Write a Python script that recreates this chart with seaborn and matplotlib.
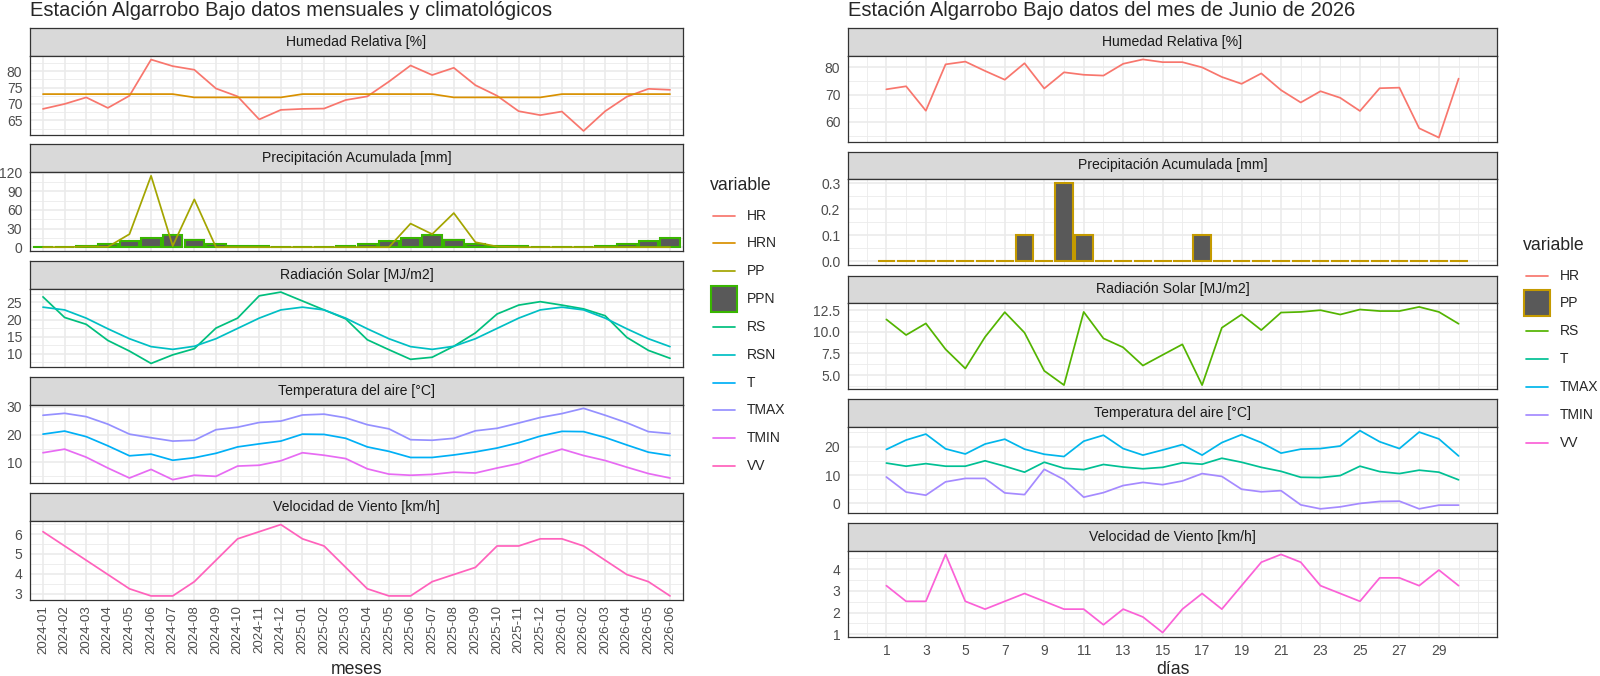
import numpy as np
import pandas as pd
import matplotlib
matplotlib.use("Agg")
import matplotlib.pyplot as plt
import seaborn as sns
from matplotlib.lines import Line2D
from matplotlib.patches import Rectangle
from matplotlib.ticker import FixedLocator, MultipleLocator, FuncFormatter

# ---- datos mensuales (2024-01 .. 2026-06) ----
meses = ["2024-01", "2024-02", "2024-03", "2024-04", "2024-05", "2024-06",
         "2024-07", "2024-08", "2024-09", "2024-10", "2024-11", "2024-12",
         "2025-01", "2025-02", "2025-03", "2025-04", "2025-05", "2025-06",
         "2025-07", "2025-08", "2025-09", "2025-10", "2025-11", "2025-12",
         "2026-01", "2026-02", "2026-03", "2026-04", "2026-05", "2026-06"]
hr_mes = [68.5, 70.0, 72.0, 68.8, 72.5, 83.5, 81.5, 80.4, 74.7, 72.3, 65.3, 68.2,
          68.5, 68.6, 71.2, 72.3, 76.8, 81.7, 78.8, 81.0, 75.7, 72.5, 67.8, 66.6,
          67.7, 61.8, 67.8, 72.2, 74.6, 74.3]
hrn_mes = [73, 73, 73, 73, 73, 73, 73, 72, 72, 72, 72, 72,
           73, 73, 73, 73, 73, 73, 73, 72, 72, 72, 72, 72,
           73, 73, 73, 73, 73, 73]
pp_mes = [0, 0, 1.0, 0.5, 21, 115, 2, 77, 0, 0, 0, 0,
          0, 0, 0, 0, 0, 38, 21, 55, 8, 1, 0, 0,
          0, 0, 0, 0, 0, 0]
ppn_mes = [0.2, 0.5, 1.5, 4.8, 10, 15.5, 19.7, 12, 5.7, 2.6, 1.5, 0.4,
           0.2, 0.5, 1.5, 4.8, 10, 15.5, 19.7, 12, 5.7, 2.6, 1.5, 0.4,
           0.2, 0.5, 1.5, 4.8, 10, 15.5]
rs_mes = [26.6, 20.6, 18.6, 13.9, 10.8, 7.2, 9.7, 11.5, 17.5, 20.4, 26.9, 28.0,
          25.4, 22.8, 20.2, 14.1, 11.2, 8.4, 9.0, 12.2, 16.1, 21.6, 24.2, 25.2,
          24.2, 23.1, 21.1, 14.8, 11.0, 8.7]
rsn_mes = [23.6, 22.8, 20.4, 17.3, 14.4, 12.1, 11.3, 12.2, 14.4, 17.4, 20.4, 22.8,
           23.6, 22.8, 20.4, 17.3, 14.4, 12.1, 11.3, 12.2, 14.4, 17.4, 20.4, 22.8,
           23.6, 22.8, 20.4, 17.3, 14.4, 12.1]
t_mes = [20.2, 21.3, 19.3, 16.0, 12.4, 13.0, 10.8, 11.7, 13.3, 15.6, 16.7, 17.7,
         20.2, 20.1, 18.7, 15.6, 14.0, 11.8, 11.8, 12.7, 13.8, 15.2, 17.1, 19.5,
         21.2, 21.1, 19.0, 16.3, 13.7, 12.5]
tmax_mes = [27.0, 27.7, 26.5, 23.8, 20.2, 18.9, 17.7, 18.0, 21.8, 22.7, 24.4, 24.9,
            27.1, 27.4, 26.1, 23.6, 22.1, 18.2, 18.0, 18.7, 21.4, 22.3, 24.2, 26.2,
            27.6, 29.5, 27.0, 24.3, 21.1, 20.4]
tmin_mes = [13.5, 14.8, 11.9, 8.0, 4.4, 7.5, 3.8, 5.4, 5.0, 8.7, 9.0, 10.6,
            13.5, 12.6, 11.4, 7.7, 5.8, 5.4, 5.7, 6.5, 6.2, 8.0, 9.6, 12.4,
            14.8, 12.5, 10.7, 8.3, 6.0, 4.4]
vv_mes = [6.12, 5.4, 4.68, 3.96, 3.24, 2.88, 2.88, 3.6, 4.68, 5.76, 6.12, 6.48,
          5.76, 5.4, 4.32, 3.24, 2.88, 2.88, 3.6, 3.96, 4.32, 5.4, 5.4, 5.76,
          5.76, 5.4, 4.68, 3.96, 3.6, 2.88]

# ---- datos diarios (junio 2026) ----
dias = list(range(1, 31))
hr_dia = [71.9, 73.0, 64.1, 81.0, 82.0, 78.6, 75.4, 81.4, 72.2, 78.1, 77.2, 76.9,
          81.2, 82.8, 81.8, 81.8, 79.9, 76.4, 73.9, 77.7, 71.6, 67.1, 71.2, 68.8,
          64.0, 72.3, 72.5, 57.7, 54.3, 75.8]
pp_dia = [0, 0, 0, 0, 0, 0, 0, 0.1, 0, 0.3, 0.1, 0, 0, 0, 0, 0, 0.1, 0,
          0, 0, 0, 0, 0, 0, 0, 0, 0, 0, 0, 0]
rs_dia = [11.43, 9.63, 10.97, 7.98, 5.76, 9.4, 12.27, 9.9, 5.49, 3.84, 12.3, 9.24,
          8.2, 6.1, 7.33, 8.55, 3.84, 10.47, 12.0, 10.2, 12.23, 12.3, 12.5, 12.0,
          12.58, 12.4, 12.4, 12.88, 12.3, 10.93]
t_dia = [14.2, 13.1, 14.0, 13.1, 13.1, 15.0, 13.1, 11.0, 14.5, 12.4, 11.9, 13.7,
         12.8, 12.2, 12.7, 14.3, 13.8, 15.9, 14.5, 12.7, 11.3, 9.2, 9.1, 9.8,
         13.1, 11.2, 10.5, 11.7, 11.0, 8.3]
tmax_dia = [19.0, 22.3, 24.4, 19.2, 17.4, 20.9, 22.6, 19.1, 17.3, 16.5, 21.9, 24.0,
            19.3, 17.0, 18.8, 20.7, 17.0, 21.4, 24.2, 21.4, 17.7, 19.1, 19.3, 20.2,
            25.6, 21.7, 19.3, 25.1, 22.7, 16.7]
tmin_dia = [9.3, 4.0, 2.9, 7.6, 8.8, 8.8, 3.7, 3.1, 12.0, 8.4, 2.2, 3.8,
            6.3, 7.4, 6.6, 7.9, 10.5, 9.5, 5.0, 4.1, 4.5, -0.5, -1.9, -1.2,
            0.0, 0.7, 0.8, -1.9, -0.6, -0.6]
vv_dia = [3.24, 2.52, 2.52, 4.68, 2.52, 2.16, 2.52, 2.88, 2.52, 2.16, 2.16, 1.44,
          2.16, 1.8, 1.08, 2.16, 2.88, 2.16, 3.24, 4.32, 4.68, 4.32, 3.24, 2.88,
          2.52, 3.6, 3.6, 3.24, 3.96, 3.24]

# colores (paleta hue de ggplot)
col_mes = {"HR": "#F8766D", "HRN": "#D89000", "PP": "#A3A500", "PPN": "#39B600",
           "RS": "#00BF7D", "RSN": "#00BFC4", "T": "#00B0F6", "TMAX": "#9590FF",
           "TMIN": "#E76BF3", "VV": "#FF62BC"}
col_dia = {"HR": "#F8766D", "PP": "#C49A00", "RS": "#53B400", "T": "#00C094",
           "TMAX": "#00B6EB", "TMIN": "#A58AFF", "VV": "#FB61D7"}

titulos = ["Humedad Relativa [%]", "Precipitación Acumulada [mm]",
           "Radiación Solar [MJ/m2]", "Temperatura del aire [°C]",
           "Velocidad de Viento [km/h]"]

df_mes = pd.DataFrame({"x": range(len(meses)), "HR": hr_mes, "HRN": hrn_mes,
                       "PP": pp_mes, "PPN": ppn_mes, "RS": rs_mes, "RSN": rsn_mes,
                       "T": t_mes, "TMAX": tmax_mes, "TMIN": tmin_mes, "VV": vv_mes})
df_mes = df_mes.melt(id_vars="x", var_name="variable", value_name="valor")
df_dia = pd.DataFrame({"x": dias, "HR": hr_dia, "PP": pp_dia, "RS": rs_dia,
                       "T": t_dia, "TMAX": tmax_dia, "TMIN": tmin_dia, "VV": vv_dia})
df_dia = df_dia.melt(id_vars="x", var_name="variable", value_name="valor")

sns.set_style("white")
plt.rcParams["font.family"] = ["Liberation Sans", "DejaVu Sans"]

W, H = 1600, 676
fig = plt.figure(figsize=(W / 100, H / 100), dpi=100)

GRIS = "#333333"
F_TICK = 10.0
F_STRIP = 10.1
F_TITULO_EJE = 12.7


def rect(x0, top, w, h):
    return [x0 / W, 1 - (top + h) / H, w / W, h / H]


def tira(x0, top, w, h, texto):
    ax = fig.add_axes(rect(x0, top, w, h))
    ax.set_facecolor("#D9D9D9")
    ax.set_xticks([])
    ax.set_yticks([])
    for s in ax.spines.values():
        s.set_color(GRIS)
        s.set_linewidth(0.9)
    ax.text(0.5, 0.5, texto, ha="center", va="center", fontsize=F_STRIP,
            color="#1A1A1A", transform=ax.transAxes)


def limites(valores):
    v = np.asarray(valores, float)
    lo, hi = v.min(), v.max()
    pad = (hi - lo) * 0.05
    return lo - pad, hi + pad


def estilo(ax, ylim, yticks, fmt):
    ax.set_ylim(ylim)
    ax.set_xlabel("")
    ax.set_ylabel("")
    paso = yticks[1] - yticks[0]
    ax.yaxis.set_major_locator(FixedLocator(yticks))
    ax.yaxis.set_minor_locator(MultipleLocator(paso / 2))
    ax.yaxis.set_major_formatter(FuncFormatter(lambda v, p: fmt.format(v)))
    ax.set_axisbelow(True)
    ax.grid(which="major", color="#EBEBEB", linewidth=1.2)
    ax.grid(which="minor", color="#EBEBEB", linewidth=0.6)
    for s in ax.spines.values():
        s.set_color(GRIS)
        s.set_linewidth(0.9)
    ax.tick_params(which="major", color=GRIS, length=3.5, width=0.9,
                   labelsize=F_TICK, labelcolor="#4D4D4D", pad=2)
    ax.tick_params(which="minor", length=0)


def dibujar(df, colores, lineas, barra, ax):
    if barra is not None:
        sub = df[df["variable"] == barra]
        sns.barplot(data=sub, x="x", y="valor", native_scale=True, width=0.9,
                    color="#595959", saturation=1, edgecolor=colores[barra],
                    linewidth=1.5, errorbar=None, ax=ax, zorder=2)
    if lineas:
        sub = df[df["variable"].isin(lineas)]
        sns.lineplot(data=sub, x="x", y="valor", hue="variable", hue_order=lineas,
                     palette=colores, estimator=None, linewidth=1.25, legend=False,
                     ax=ax, zorder=3)


def leyenda(x, y, entradas, colores, barra):
    fig.text(x / W, 1 - y / H, "variable", fontsize=F_TITULO_EJE, va="center", ha="left")
    for k, nombre in enumerate(entradas):
        yy = y + 30.5 + 27.85 * k
        if nombre == barra:
            fig.add_artist(Rectangle(((x + 1) / W, 1 - (yy + 13) / H), 26 / W, 26 / H,
                                     facecolor="#595959", edgecolor=colores[nombre],
                                     linewidth=1.5, transform=fig.transFigure))
        else:
            fig.add_artist(Line2D([(x + 3) / W, (x + 25) / W], [1 - yy / H] * 2,
                                  color=colores[nombre], linewidth=1.25,
                                  transform=fig.transFigure))
        fig.text((x + 37) / W, 1 - yy / H, nombre, fontsize=F_TICK, va="center", ha="left")


# ---- panel izquierdo: mensual ----
paneles_mes = [(["HR", "HRN"], None, [65, 70, 75, 80], "{:.0f}"),
               (["PP"], "PPN", [0, 30, 60, 90, 120], "{:.0f}"),
               (["RS", "RSN"], None, [10, 15, 20, 25], "{:.0f}"),
               (["TMAX", "T", "TMIN"], None, [10, 20, 30], "{:.0f}"),
               (["VV"], None, [3, 4, 5, 6], "{:.0f}")]
LX0, LX1 = 30, 683
for i, (lineas, barra, yt, fmt) in enumerate(paneles_mes):
    top = 28 + i * 116.25
    tira(LX0, top, LX1 - LX0, 28, titulos[i])
    ax = fig.add_axes(rect(LX0, top + 28, LX1 - LX0, 78.5))
    dibujar(df_mes, col_mes, lineas, barra, ax)
    vals = df_mes[df_mes["variable"].isin(lineas + ([barra] if barra else []))]["valor"]
    if barra:
        vals = list(vals) + [0]
    estilo(ax, limites(vals), yt, fmt)
    ax.set_xlim(-0.6, len(meses) - 0.4)
    ax.xaxis.set_major_locator(FixedLocator(range(len(meses))))
    ax.xaxis.set_minor_locator(FixedLocator([]))
    if i < len(paneles_mes) - 1:
        ax.tick_params(axis="x", length=0, labelbottom=False)
    else:
        ax.set_xticklabels(meses, rotation=90)
        ax.tick_params(axis="x", labelsize=9.6, pad=0.5)
fig.text(((LX0 + LX1) / 2) / W, 1 - 674 / H, "meses", fontsize=F_TITULO_EJE,
         ha="center", va="baseline")
fig.text(LX0 / W, 1 - 16 / H,
         "Estación Algarrobo Bajo datos mensuales y climatológicos",
         fontsize=14.5, ha="left", va="baseline")
leyenda(710, 185, ["HR", "HRN", "PP", "PPN", "RS", "RSN", "T", "TMAX", "TMIN", "VV"],
        col_mes, "PPN")

# ---- panel derecho: diario ----
paneles_dia = [(["HR"], None, [60, 70, 80], "{:.0f}"),
               ([], "PP", [0.0, 0.1, 0.2, 0.3], "{:.1f}"),
               (["RS"], None, [5.0, 7.5, 10.0, 12.5], "{:.1f}"),
               (["TMAX", "T", "TMIN"], None, [0, 10, 20], "{:.0f}"),
               (["VV"], None, [1, 2, 3, 4], "{:.0f}")]
RX0, RX1 = 848, 1497
ancho = 29.9
for i, (lineas, barra, yt, fmt) in enumerate(paneles_dia):
    top = 28 + i * 123.75
    tira(RX0, top, RX1 - RX0, 27.5, titulos[i])
    ax = fig.add_axes(rect(RX0, top + 27.5, RX1 - RX0, 86))
    dibujar(df_dia, col_dia, lineas, barra, ax)
    vals = df_dia[df_dia["variable"].isin(lineas + ([barra] if barra else []))]["valor"]
    if barra:
        vals = list(vals) + [0]
    estilo(ax, limites(vals), yt, fmt)
    ax.set_xlim(0.55 - 0.05 * ancho, 30.45 + 0.05 * ancho)
    ax.xaxis.set_major_locator(FixedLocator(range(1, 30, 2)))
    ax.xaxis.set_minor_locator(FixedLocator(range(0, 32)))
    ax.xaxis.set_major_formatter(FuncFormatter(lambda v, p: f"{v:.0f}"))
    if i < len(paneles_dia) - 1:
        ax.tick_params(axis="x", length=0, labelbottom=False)
fig.text(((RX0 + RX1) / 2) / W, 1 - 674 / H, "días", fontsize=F_TITULO_EJE,
         ha="center", va="baseline")
fig.text(RX0 / W, 1 - 16 / H,
         "Estación Algarrobo Bajo datos del mes de Junio de 2026",
         fontsize=14.5, ha="left", va="baseline")
leyenda(1523, 245, ["HR", "PP", "RS", "T", "TMAX", "TMIN", "VV"], col_dia, "PP")

fig.savefig("out.png", dpi=100, facecolor="white")
